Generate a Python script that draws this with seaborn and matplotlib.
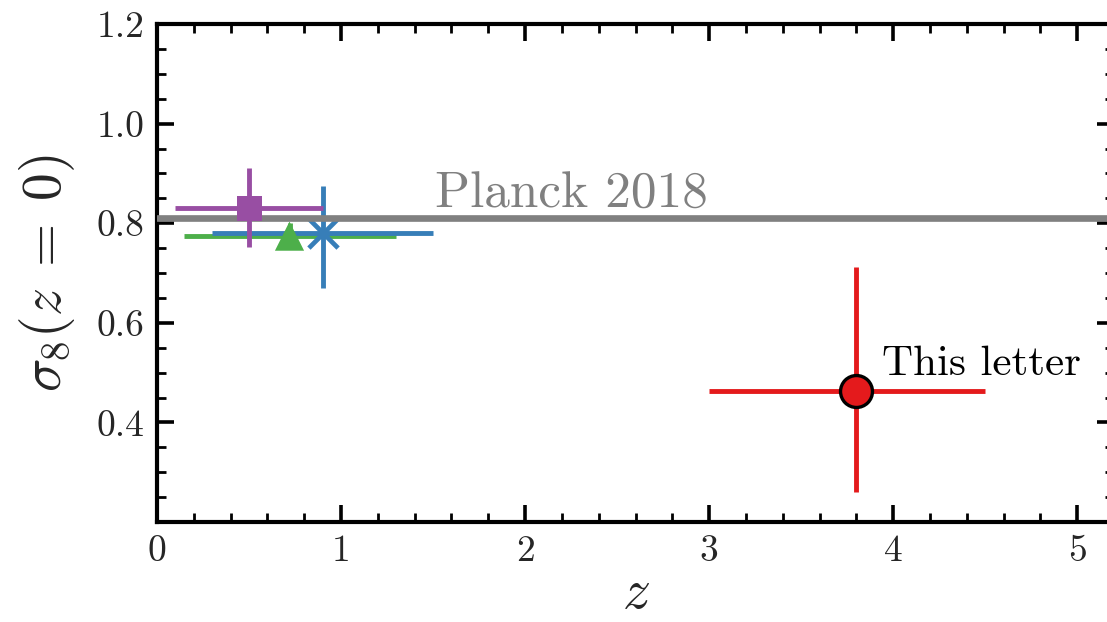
import matplotlib
matplotlib.use("Agg")
import matplotlib.pyplot as plt
import seaborn as sns
import pandas as pd
from matplotlib.ticker import MultipleLocator

# ---- data ----
labels = ["purple", "green", "blue", "This letter"]
z_vals = [0.50, 0.72, 0.90, 3.80]
sigma8_vals = [0.830, 0.774, 0.780, 0.463]
z_err_lo = [0.40, 0.575, 0.60, 0.80]
z_err_hi = [0.40, 0.58, 0.60, 0.70]
s_err_lo = [0.078, 0.026, 0.111, 0.203]
s_err_hi = [0.081, 0.026, 0.095, 0.250]
planck_2018 = 0.811

colors = ["#984ea3", "#4daf4a", "#377eb8", "#e41a1c"]
markers = ["s", "^", "x", "o"]

sns.set_theme(style="ticks")
plt.rcParams.update({
    "font.family": ["cmr10", "DejaVu Serif"],
    "mathtext.fontset": "cm",
    "axes.formatter.use_mathtext": True,
    "axes.unicode_minus": False,
})

df = pd.DataFrame({"z": z_vals, "s8": sigma8_vals, "label": labels})

fig = plt.figure(figsize=(11.07, 6.22), dpi=100)
ax = fig.add_axes([157 / 1107, 100 / 622, 957 / 1107, 498 / 622])

# Planck line
ax.axhline(planck_2018, color="#808080", lw=4.8, zorder=3)
ax.text(1.51, 0.8305, "Planck 2018", color="#808080", fontsize=37,
        va="baseline", ha="left", zorder=3)

zorders = [4, 2, 2, 5]
sizes = [18, 21, 21, 23]
for i in range(len(z_vals)):
    ax.errorbar(z_vals[i], sigma8_vals[i],
                xerr=[[z_err_lo[i]], [z_err_hi[i]]],
                yerr=[[s_err_lo[i]], [s_err_hi[i]]],
                fmt="none", ecolor=colors[i], elinewidth=3.5, capsize=0,
                zorder=zorders[i])

for i in range(len(z_vals)):
    kw = dict(color=colors[i], marker=markers[i])
    if markers[i] == "x":
        kw.update(s=sizes[i] ** 2, linewidth=3.4)
    elif markers[i] == "o":
        kw.update(s=sizes[i] ** 2, edgecolor="black", linewidth=2.4)
    else:
        kw.update(s=sizes[i] ** 2, edgecolor="none", linewidth=0)
    sns.scatterplot(data=df.iloc[[i]], x="z", y="s8", ax=ax, legend=False,
                    zorder=zorders[i] + 0.5, **kw)

ax.text(3.94, 0.495, "This letter", color="black", fontsize=31,
        va="baseline", ha="left", zorder=6)

ax.set_xlim(0, 5.2)
ax.set_ylim(0.2, 1.2)
ax.xaxis.set_major_locator(MultipleLocator(1))
ax.xaxis.set_minor_locator(MultipleLocator(0.2))
ax.yaxis.set_major_locator(MultipleLocator(0.2))
ax.yaxis.set_minor_locator(MultipleLocator(0.05))
ax.set_yticks([0.4, 0.6, 0.8, 1.0, 1.2])
ax.set_yticklabels(["0.4", "0.6", "0.8", "1.0", "1.2"])
ax.set_xticks([0, 1, 2, 3, 4, 5])
ax.set_xticklabels(["0", "1", "2", "3", "4", "5"])

ax.tick_params(which="both", direction="in", top=True, right=True,
               labelsize=27, pad=9, color="black")
ax.tick_params(which="major", length=12, width=2.6)
ax.tick_params(which="minor", length=6.5, width=2.0)
for sp in ax.spines.values():
    sp.set_linewidth(3.0)
    sp.set_color("black")

ax.set_xlabel(r"$z$", fontsize=40, labelpad=1)
ax.set_ylabel(r"$\sigma_8(z\;=\;0)$", fontsize=40, labelpad=14)

fig.savefig("out.png", dpi=100)
